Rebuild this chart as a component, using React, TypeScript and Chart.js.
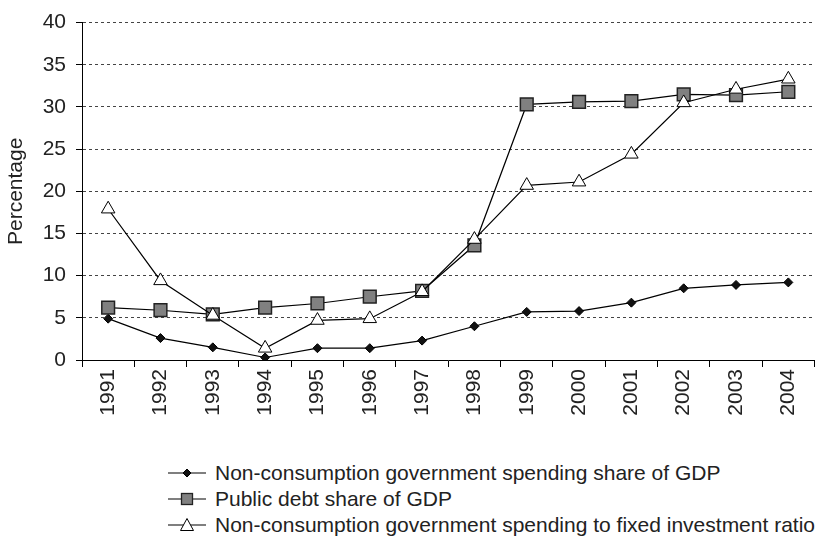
import React, { useEffect, useRef } from "react";
import { Chart, registerables } from "chart.js";

Chart.register(...registerables);

const years = ["1991", "1992", "1993", "1994", "1995", "1996", "1997", "1998", "1999", "2000", "2001", "2002", "2003", "2004"];
const spendingShareGDP = [4.9, 2.6, 1.5, 0.3, 1.4, 1.4, 2.3, 4.0, 5.7, 5.8, 6.8, 8.5, 8.9, 9.2];
const publicDebtShareGDP = [6.2, 5.9, 5.4, 6.2, 6.7, 7.5, 8.2, 13.6, 30.3, 30.6, 30.7, 31.5, 31.4, 31.8];
const spendingToInvestment = [17.9, 9.4, 5.3, 1.4, 4.7, 4.9, 8.1, 14.3, 20.7, 21.1, 24.4, 30.5, 32.1, 33.3];
const yTicks = [0, 5, 10, 15, 20, 25, 30, 35, 40];
const seriesLabels = [
  "Non-consumption government spending share of GDP",
  "Public debt share of GDP",
  "Non-consumption government spending to fixed investment ratio",
];

const FONT = "'Liberation Sans', Arial, Helvetica, sans-serif";

function LegendIcon({ kind }: { kind: number }) {
  return (
    <svg width={38} height={16} style={{ display: "block" }}>
      <line x1={0} y1={8} x2={38} y2={8} stroke="#000" strokeWidth={1.2} />
      {kind === 0 && <polygon points="19,4 23,8 19,12 15,8" fill="#111" stroke="#000" strokeWidth={1} />}
      {kind === 1 && <rect x={13.5} y={2.5} width={11} height={11} fill="#808080" stroke="#222" strokeWidth={1.3} />}
      {kind === 2 && <polygon points="19,1.5 25.5,13.5 12.5,13.5" fill="#fff" stroke="#000" strokeWidth={1} />}
    </svg>
  );
}

export default function App() {
  const ref = useRef<HTMLCanvasElement | null>(null);

  useEffect(() => {
    if (!ref.current) return;
    const chart = new Chart(ref.current, {
      type: "line",
      data: {
        labels: years,
        datasets: [
          {
            label: seriesLabels[0],
            data: spendingShareGDP,
            borderColor: "#000",
            borderWidth: 1.2,
            pointStyle: "rectRot",
            pointRadius: 4.5,
            pointBackgroundColor: "#111",
            pointBorderColor: "#000",
            pointBorderWidth: 1,
            order: 2,
          },
          {
            label: seriesLabels[1],
            data: publicDebtShareGDP,
            borderColor: "#000",
            borderWidth: 1.2,
            pointStyle: "rect",
            pointRadius: 9,
            pointBackgroundColor: "#808080",
            pointBorderColor: "#222",
            pointBorderWidth: 1.5,
            order: 1,
          },
          {
            label: seriesLabels[2],
            data: spendingToInvestment,
            borderColor: "#000",
            borderWidth: 1.2,
            pointStyle: "triangle",
            pointRadius: 7.8,
            pointBackgroundColor: "#fff",
            pointBorderColor: "#000",
            pointBorderWidth: 1,
            order: 0,
          },
        ],
      },
      options: {
        animation: false,
        responsive: false,
        maintainAspectRatio: false,
        layout: { padding: { left: 0, right: 3, top: 18, bottom: 0 } },
        plugins: { legend: { display: false }, tooltip: { enabled: false } },
        scales: {
          x: {
            type: "category",
            offset: true,
            grid: {
              display: true,
              offset: true,
              drawOnChartArea: false,
              drawTicks: true,
              tickLength: 7,
              tickColor: "#000",
              tickWidth: 1,
            },
            border: { display: true, color: "#000", width: 1 },
            ticks: {
              minRotation: 90,
              maxRotation: 90,
              padding: 2,
              color: "#222",
              font: { family: FONT, size: 21 },
              autoSkip: false,
            },
            afterFit: (s: any) => {
              s.height = 80;
            },
          },
          y: {
            min: 0,
            max: 40,
            afterBuildTicks: (s: any) => {
              s.ticks = yTicks.map((v) => ({ value: v }));
            },
            grid: {
              color: "#444",
              lineWidth: 1,
              drawTicks: true,
              tickLength: 6,
              tickColor: "#000",
              tickWidth: 1,
            },
            border: { display: true, color: "#000", width: 1, dash: [3, 3] },
            ticks: {
              padding: 10,
              color: "#222",
              font: { family: FONT, size: 21 },
            },
            title: {
              display: true,
              text: "Percentage",
              color: "#222",
              font: { family: FONT, size: 21, weight: "normal" },
              padding: { top: 4, bottom: 0 },
            },
            afterFit: (s: any) => {
              s.width = 82;
            },
          },
        },
      },
    });
    return () => chart.destroy();
  }, []);

  const rowCenters = [473, 499, 525];

  return (
    <div style={{ position: "absolute", left: 0, top: 0, width: 825, height: 540, background: "#fff", overflow: "hidden" }}>
      <canvas ref={ref} width={825} height={440} style={{ position: "absolute", left: 0, top: 0, width: 825, height: 440 }} />
      {seriesLabels.map((label, i) => (
        <div
          key={label}
          style={{
            position: "absolute",
            left: 168,
            top: rowCenters[i] - 13,
            height: 26,
            display: "flex",
            alignItems: "center",
            fontFamily: FONT,
            fontSize: 21,
            color: "#222",
            whiteSpace: "nowrap",
          }}
        >
          <LegendIcon kind={i} />
          <span style={{ marginLeft: 9 }}>{label}</span>
        </div>
      ))}
    </div>
  );
}
